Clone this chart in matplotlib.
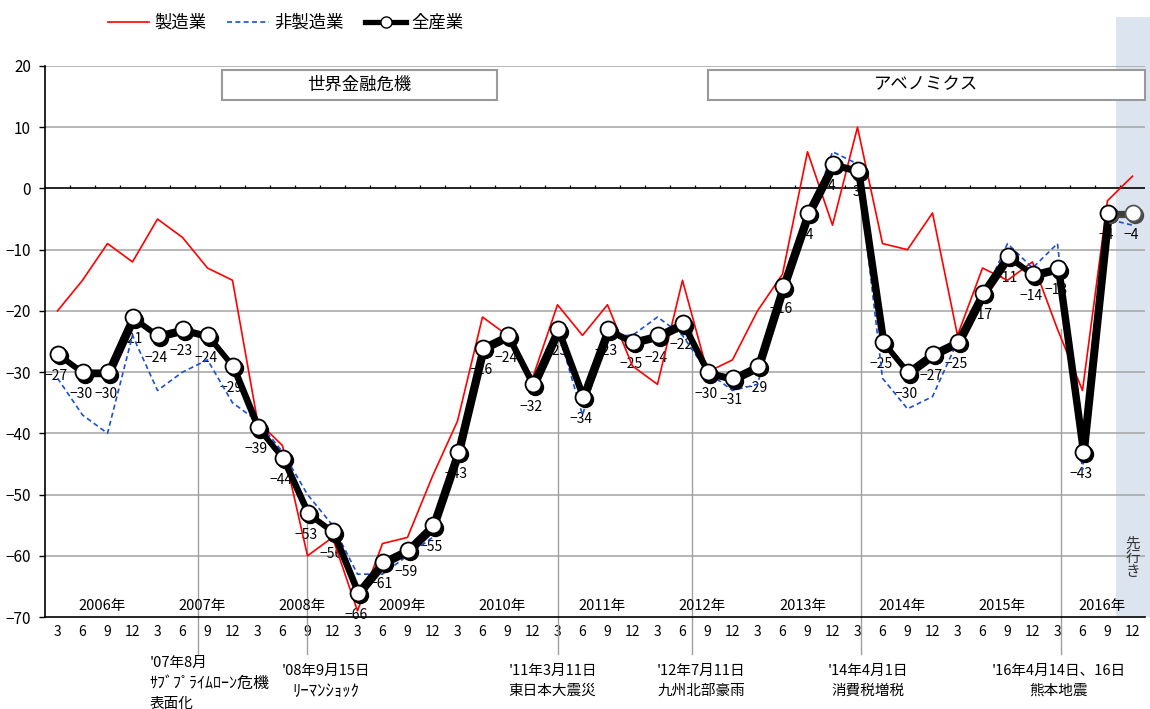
import numpy as np
import matplotlib
matplotlib.use('Agg')
import matplotlib.pyplot as plt
import matplotlib.transforms as mtransforms
from matplotlib.lines import Line2D
from matplotlib.patches import Rectangle

plt.rcParams['font.family'] = ['Noto Sans CJK JP', 'DejaVu Sans']
plt.rcParams['axes.unicode_minus'] = True

# quarterly survey points, 2006/3 .. 2016/12 (last one is the outlook)
years = list(range(2006, 2017))
months = [3, 6, 9, 12]
month_labels = [str(m) for y in years for m in months]
year_labels = ['%d年' % y for y in years]

manufacturing = [-20, -15, -9, -12, -5, -8, -13, -15, -38, -42, -60, -57,
                 -69, -58, -57, -47, -38, -21, -24, -31, -19, -24, -19, -29,
                 -32, -15, -30, -28, -20, -14, 6, -6, 10, -9, -10, -4,
                 -24, -13, -15, -12, -23, -33, -2, 2]
non_manufacturing = [-31, -37, -40, -24, -33, -30, -28, -35, -38, -43, -50, -55,
                     -63, -63, -60, -57, -45, -27, -24, -32, -23, -37, -24, -24,
                     -21, -24, -30, -33, -32, -17, -6, 6, 4, -31, -36, -34,
                     -25, -18, -9, -13, -9, -46, -5, -6]
all_industries = [-27, -30, -30, -21, -24, -23, -24, -29, -39, -44, -53, -56,
                  -66, -61, -59, -55, -43, -26, -24, -32, -23, -34, -23, -25,
                  -24, -22, -30, -31, -29, -16, -4, 4, 3, -25, -30, -27,
                  -25, -17, -11, -14, -13, -43, -4, -4]

# events: position on the quarter axis, first line, second line(s)
event_pos = [5.6, 9.96, 20.0, 25.36, 32.15, 40.15]
event_top = [-23.5, -53.7, -23, -22, -1, -23]
event_text = [["'07年8月", "ｻﾌﾞﾌﾟﾗｲﾑﾛｰﾝ危機", "表面化"],
              ["'08年9月15日", "ﾘｰﾏﾝｼｮｯｸ"],
              ["'11年3月11日", "東日本大震災"],
              ["'12年7月11日", "九州北部豪雨"],
              ["'14年4月1日", "消費税増税"],
              ["'16年4月14日、16日", "熊本地震"]]

periods = [("世界金融危機", 6.56, 17.56), ("アベノミクス", 26.0, 43.5)]

x = np.arange(len(all_industries))
n = len(x)

fig = plt.figure(figsize=(11.5, 7.09), dpi=100)
ax = fig.add_axes([45 / 1150, 1 - 617 / 709, 1100 / 1150, 551 / 709])
ax.set_xlim(-0.5, n - 0.5)
ax.set_ylim(-70, 20)

# outlook shading, runs up into the legend band
ax.add_patch(Rectangle((42.35, -70), 1.35, 98, facecolor='#dce4f0',
                       edgecolor='none', clip_on=False, zorder=0))

for v in range(-60, 21, 10):
    if v != 0:
        ax.axhline(v, color='#a3a3a3', lw=1.1, zorder=1)
ax.axhline(0, color='black', lw=1.2, zorder=2)
ax.vlines(x[:-1] + 0.5, 0, 0.5, color='black', lw=0.9, zorder=2)

for sp in ['top', 'right']:
    ax.spines[sp].set_visible(False)
ax.spines['left'].set_linewidth(1.2)
ax.spines['bottom'].set_linewidth(1.2)
ax.set_yticks(range(-70, 21, 10))
ax.tick_params(axis='y', labelsize=11, length=4, width=1, pad=6)
ax.set_xticks(x)
ax.set_xticklabels(month_labels)
ax.tick_params(axis='x', labelsize=10, length=0, pad=6)

for k, lab in enumerate(year_labels):
    ax.text(4 * k + 1.8, -68.2, lab, ha='center', va='center', fontsize=10.5, zorder=3)

# period boxes
for name, x0, x1 in periods:
    ax.add_patch(Rectangle((x0, 14.5), x1 - x0, 4.9, facecolor='white',
                           edgecolor='#999999', lw=1.5, zorder=4, clip_on=False))
    ax.text((x0 + x1) / 2, 17.0, name, ha='center', va='center', fontsize=12.5, zorder=5)

# event markers below the axis
for xp, top in zip(event_pos, event_top):
    ax.plot([xp, xp], [top, -76], color='#a0a0a0', lw=1.0, clip_on=False, zorder=2)
for i, lines in enumerate(event_text):
    if i == 0:
        for j, t in enumerate(lines):
            ax.text(3.68, -77.5 - 3.3 * j, t, ha='left', va='center',
                    fontsize=11.5 if j == 1 else 10.5)
    else:
        cx = [10.72, 19.8, 25.75, 32.4, 40.05][i - 1]
        ax.text(cx, -78.8, lines[0], ha='center', va='center', fontsize=10.5)
        ax.text(cx, -82.1, lines[1], ha='center', va='center',
                fontsize=12 if i == 1 else 10.5)

ax.text(43.0, -60.3, "先\n行\nき", ha='center', va='center', fontsize=10.5,
        linespacing=1.0, color='#333333', zorder=3)

# value labels sit under the lines
for xi, v in zip(x, all_industries):
    ax.annotate('%d' % v if v >= 0 else '\u2212%d' % -v, (xi, v), xytext=(-1, -16),
                textcoords='offset points', ha='center', va='center',
                fontsize=10, zorder=3)

ax.plot(x, manufacturing, color='red', lw=1.2, zorder=5)
ax.plot(x, non_manufacturing, color='#1a4fd6', lw=1.2, ls=(0, (3, 2)), zorder=5)

shadow = mtransforms.offset_copy(ax.transData, fig=fig, x=2.5, y=-2.5, units='dots')
ax.plot(x[:-1], all_industries[:-1], color='black', lw=3.8, marker='o', ms=11.5,
        mfc='black', mec='black', transform=shadow, zorder=6)
ax.plot(x[-2:], all_industries[-2:], color='#4a4a4a', lw=3.8, marker='o', ms=11.5,
        mfc='#4a4a4a', mec='#4a4a4a', transform=shadow, zorder=6)
ax.plot(x[-2:], all_industries[-2:], color='#3c3c3c', lw=3.8, zorder=7)
ax.plot(x[-1:], all_industries[-1:], ls='none', marker='o', ms=11.5, mfc='white',
        mec='#555555', mew=1.3, zorder=8)
ax.plot(x[:-1], all_industries[:-1], color='black', lw=3.8, marker='o', ms=11.5,
        mfc='white', mec='black', mew=1.3, zorder=8)

handles = [Line2D([], [], color='red', lw=1.2),
           Line2D([], [], color='#1a4fd6', lw=1.2, ls=(0, (3, 2))),
           Line2D([], [], color='black', lw=3.8, marker='o', ms=8, mfc='white', mec='black')]
fig.legend(handles, ['製造業', '非製造業', '全産業'], loc='upper left',
           bbox_to_anchor=(92 / 1150, 1 + 2 / 709), ncol=3, frameon=False,
           fontsize=12.5, handlelength=2.4, handletextpad=0.3, columnspacing=1.2)

fig.savefig('out.png', dpi=100)
